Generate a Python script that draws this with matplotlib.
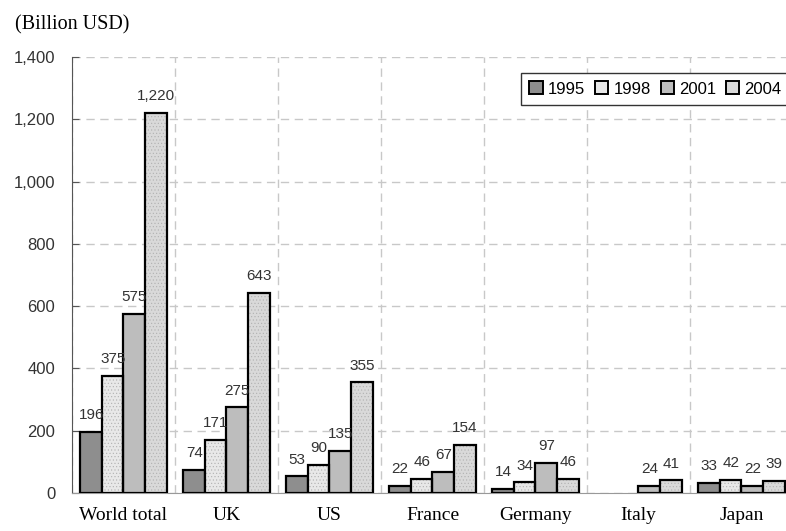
import numpy as np
import matplotlib
matplotlib.use('Agg')
import matplotlib.pyplot as plt
from matplotlib.patches import Patch

countries = ['World total', 'UK', 'US', 'France', 'Germany', 'Italy', 'Japan']
years = ['1995', '1998', '2001', '2004']
v1995 = [196, 74, 53, 22, 14, np.nan, 33]
v1998 = [375, 171, 90, 46, 34, np.nan, 42]
v2001 = [575, 275, 135, 67, 97, 24, 22]
v2004 = [1220, 643, 355, 154, 46, 41, 39]

series = [v1995, v1998, v2001, v2004]
faces = ['#8e8e8e', '#e8e8e8', '#bdbdbd', '#d9d9d9']
hatches = [None, '.....', None, '.....']

plt.rcParams['hatch.linewidth'] = 0.4

fig = plt.figure(figsize=(7.86, 5.31), dpi=100)
ax = fig.add_axes([72/786, 38/531, 721/786, 436/531])

x = np.arange(len(countries))
w = 0.209
for k, vals in enumerate(series):
    pos = x + (k - 1.5) * w
    vals = np.array(vals, dtype=float)
    if hatches[k]:
        # hatch drawn in light grey, outline drawn separately in black
        ax.bar(pos, vals, w, color=faces[k], hatch=hatches[k],
               edgecolor='#b0b0b0', linewidth=0, zorder=3)
        ax.bar(pos, vals, w, fill=False, edgecolor='black', linewidth=1.6, zorder=4)
    else:
        ax.bar(pos, vals, w, color=faces[k], edgecolor='black', linewidth=1.6, zorder=3)
    for p, v in zip(pos, vals):
        if np.isnan(v):
            continue
        ax.annotate(f'{int(v):,}', (p, v), xytext=(0, 7), textcoords='offset points',
                    ha='center', va='bottom', fontsize=11, color='#333333',
                    family='Liberation Sans', zorder=5)

ax.set_xlim(-0.5, 6.5)
ax.set_ylim(0, 1400)
ax.set_yticks(range(0, 1401, 200))
ax.set_yticklabels([f'{t:,}' for t in range(0, 1401, 200)],
                   family='Liberation Sans', fontsize=12, color='#333333')
ax.set_xticks(x)
ax.set_xticklabels(countries, family='Liberation Serif', fontsize=14)
ax.set_xticks(np.arange(-0.5, 7, 1), minor=True)
ax.tick_params(axis='x', which='both', length=0, pad=10)
ax.tick_params(axis='y', direction='in', length=5, color='#555555', pad=12)

ax.grid(True, axis='y', which='major', color='#c8c8c8', linestyle=(0, (6, 4)), linewidth=1)
ax.grid(True, axis='x', which='minor', color='#c8c8c8', linestyle=(0, (6, 4)), linewidth=1)
ax.set_axisbelow(True)
ax.spines['top'].set_visible(False)
ax.spines['right'].set_visible(False)
ax.spines['left'].set_color('#555555')
ax.spines['bottom'].set_color('#999999')

fig.text(15/786, 1 - 25/531, '(Billion USD)', family='Liberation Serif',
         fontsize=14.5, va='center', ha='left')

handles = [Patch(facecolor=faces[k], edgecolor='black', linewidth=1.4) for k in range(4)]
leg = ax.legend(handles, years, ncol=4, loc='upper left',
                bbox_to_anchor=(521/786, 1 - 73/531), bbox_transform=fig.transFigure,
                borderaxespad=0, fancybox=False, handlelength=0.8, handleheight=0.8,
                handletextpad=0.3, columnspacing=0.6, borderpad=0.5,
                prop={'family': 'Liberation Sans', 'size': 12}, framealpha=1)
leg.get_frame().set_edgecolor('#333333')
leg.get_frame().set_linewidth(1.0)

fig.savefig('out.png', dpi=100)
